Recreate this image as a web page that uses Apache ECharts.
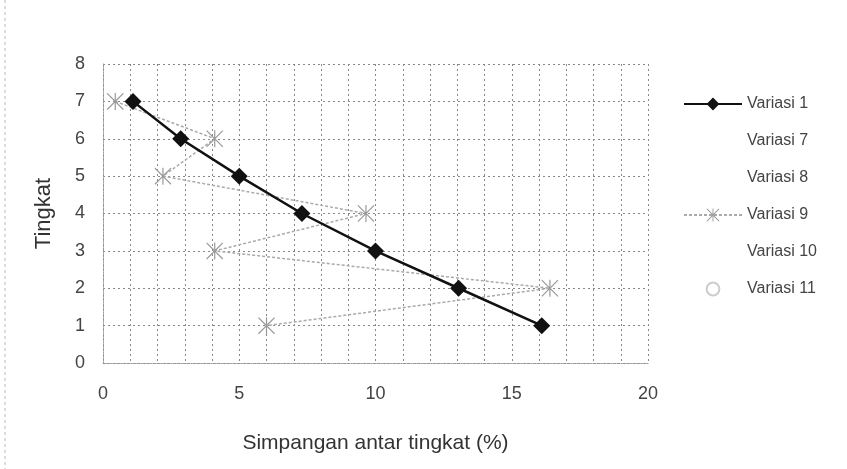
<!DOCTYPE html>
<html><head><meta charset="utf-8">
<script src="https://cdn.jsdelivr.net/npm/echarts@6/dist/echarts.min.js"></script>
<style>html,body{margin:0;padding:0;background:#fff}#c{width:847px;height:469px}</style>
</head><body><div id="c"></div>
<script>
const seriesNames = ['Variasi 1','Variasi 7','Variasi 8','Variasi 9','Variasi 10','Variasi 11'];
const tingkat = [7,6,5,4,3,2,1];
const variasi1 = [1.1,2.85,5.0,7.3,10.0,13.05,16.1];
const variasi9 = [0.45,4.1,2.2,9.65,4.1,16.4,6.0];
const xTicks = [0,5,10,15,20];
const yTicks = [0,1,2,3,4,5,6,7,8];

const pair = (xs) => xs.map((x,i)=>[x,tingkat[i]]);
const starPath = 'path://M0,1L1,0L10,9L19,0L20,1L11,10L20,19L19,20L10,11L1,20L0,19L9,10Z M9.3,0L10.7,0L10.7,20L9.3,20Z';
const font = 'Liberation Sans, Arial, sans-serif';
const chart = echarts.init(document.getElementById('c'), null, {renderer:'canvas'});
chart.setOption({
  animation:false,
  backgroundColor:'#fff',
  textStyle:{fontFamily:font},
  grid:{left:103,right:199,top:64,bottom:106},
  xAxis:{type:'value',min:0,max:20,interval:1,
    name:'Simpangan antar tingkat (%)',nameLocation:'middle',nameGap:70,
    nameTextStyle:{fontSize:21,color:'#333',fontFamily:font},
    axisLine:{show:true,lineStyle:{color:'#999',type:'dotted'}},axisTick:{show:false},
    axisLabel:{fontSize:18,color:'#444',margin:22,formatter:v=>xTicks.includes(v)?String(v):''},
    splitLine:{show:true,lineStyle:{color:'#888',type:[2,3],width:1}}},
  yAxis:{type:'value',min:0,max:8,interval:1,
    name:'Tingkat',nameLocation:'middle',nameGap:48,
    nameTextStyle:{fontSize:22,color:'#333',fontFamily:font},
    axisLine:{show:true,lineStyle:{color:'#999',type:'dotted'}},axisTick:{show:false},
    axisLabel:{fontSize:18,color:'#444',margin:18,formatter:v=>yTicks.includes(v)?String(v):''},
    splitLine:{show:true,lineStyle:{color:'#888',type:[2,3],width:1}}},
  legend:{orient:'vertical',left:678,top:91,itemWidth:58,itemHeight:16,itemGap:21,
    textStyle:{fontSize:16,color:'#444',fontFamily:font,padding:[0,0,0,0]},
    data:seriesNames},
  graphic:[{type:'line',shape:{x1:5,y1:0,x2:5,y2:469},style:{stroke:'#bbb',lineDash:[3,3],lineWidth:1}}],
  series:[
    {name:'Variasi 1',type:'line',data:pair(variasi1),symbol:'diamond',symbolSize:17,
      lineStyle:{color:'#111',width:2.5},itemStyle:{color:'#111'},z:5},
    {name:'Variasi 7',type:'line',data:[],symbol:'none',lineStyle:{color:'#fff',width:0},itemStyle:{color:'#fff'}},
    {name:'Variasi 8',type:'line',data:[],symbol:'none',lineStyle:{color:'#fff',width:0},itemStyle:{color:'#fff'}},
    {name:'Variasi 9',type:'line',data:pair(variasi9),symbol:starPath,symbolSize:17,
      lineStyle:{color:'#aaa',width:1.5,type:[3,2]},itemStyle:{color:'#999'},z:4},
    {name:'Variasi 10',type:'line',data:[],symbol:'none',lineStyle:{color:'#fff',width:0},itemStyle:{color:'#fff'}},
    {name:'Variasi 11',type:'line',data:[],symbol:'circle',symbolSize:9,lineStyle:{color:'#fff',width:0},itemStyle:{color:'#fff',borderColor:'#ccc',borderWidth:1.5}}
  ]
});
</script></body></html>
